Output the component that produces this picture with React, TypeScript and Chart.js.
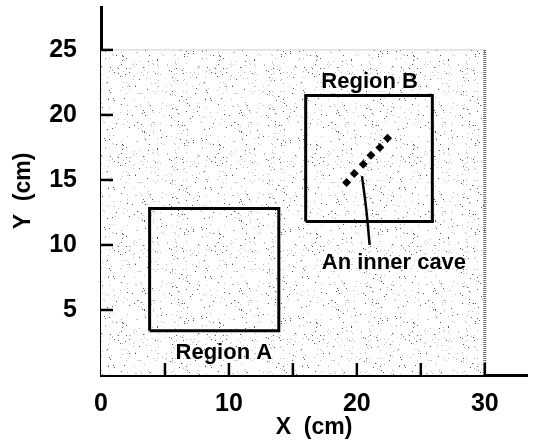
import React, { useEffect, useRef } from 'react';
import { Chart, registerables } from 'chart.js';

Chart.register(...registerables);

// Axis ranges and ticks
const xMin = 0;
const xMax = 33.3;
const yMin = 0;
const yMax = 28.3;
const xTickLabels = [0, 10, 20, 30];
const yTickLabels = [5, 10, 15, 20, 25];
const xTickMarks = [5, 10, 15, 20, 25, 30];
const yTickMarks = [5, 10, 15, 20, 25];

// Shaded (stippled) field
const fieldX = [0, 30];
const fieldTop = [25, 25];
const fieldEdgeX = [30, 30];
const fieldEdgeY = [0, 25];

// Region rectangles
const regionAX = [3.8, 13.9, 13.9, 3.8, 3.8];
const regionAY = [3.4, 3.4, 12.8, 12.8, 3.4];
const regionBX = [16.0, 25.9, 25.9, 16.0, 16.0];
const regionBY = [11.8, 11.8, 21.5, 21.5, 11.8];

// Inner cave points
const caveX = [19.2, 19.8, 20.5, 21.1, 21.8, 22.4];
const caveY = [14.8, 15.5, 16.2, 16.9, 17.5, 18.2];

// Leader line
const leaderX = [20.4, 20.75, 21.0];
const leaderY = [15.3, 12.6, 10.0];

// Annotations
const labelTexts = ['Region A', 'Region B', 'An inner cave'];
const labelX = [9.6, 21.0, 22.9];
const labelY = [1.7, 22.5, 8.6];

const FONT = '"Liberation Sans Narrow", "Arial Narrow", "Liberation Sans", Arial, sans-serif';

const pts = (xs: number[], ys: number[]) => xs.map((x, i) => ({ x, y: ys[i] }));

function makePattern(): CanvasPattern | string {
  const c = document.createElement('canvas');
  c.width = 97;
  c.height = 89;
  const g = c.getContext('2d');
  if (!g) return '#f4f4f4';
  g.fillStyle = '#ffffff';
  g.fillRect(0, 0, c.width, c.height);
  let s = 20240611;
  for (let i = 0; i < 300; i++) {
    s = (Math.imul(s, 1103515245) + 12345) >>> 0;
    const px = (s >>> 8) % c.width;
    s = (Math.imul(s, 1103515245) + 12345) >>> 0;
    const py = (s >>> 8) % c.height;
    g.fillStyle = i % 3 === 0 ? '#555555' : '#bdbdbd';
    g.fillRect(px, py, 1, 1);
  }
  return g.createPattern(c, 'repeat') || '#f4f4f4';
}

const overlayPlugin = {
  id: 'overlay',
  afterDatasetsDraw(chart: any) {
    const { ctx, scales } = chart;
    const xs = scales.x;
    const ys = scales.y;
    ctx.save();
    ctx.strokeStyle = '#000';
    ctx.lineWidth = 2.5;
    const y0 = ys.getPixelForValue(0);
    xTickMarks.forEach((v) => {
      const px = xs.getPixelForValue(v);
      ctx.beginPath();
      ctx.moveTo(px, y0);
      ctx.lineTo(px, y0 - 12);
      ctx.stroke();
    });
    const x0 = xs.getPixelForValue(0);
    yTickMarks.forEach((v) => {
      const py = ys.getPixelForValue(v);
      ctx.beginPath();
      ctx.moveTo(x0, py);
      ctx.lineTo(x0 + 12, py);
      ctx.stroke();
    });
    ctx.fillStyle = '#000';
    ctx.font = `bold 22px ${FONT}`;
    ctx.textAlign = 'center';
    ctx.textBaseline = 'middle';
    labelTexts.forEach((t, i) => {
      ctx.fillText(t, xs.getPixelForValue(labelX[i]), ys.getPixelForValue(labelY[i]));
    });
    ctx.restore();
  },
};

export default function App() {
  const ref = useRef<HTMLCanvasElement | null>(null);

  useEffect(() => {
    if (!ref.current) return;
    const pattern = makePattern();
    const chart = new Chart(ref.current, {
      type: 'scatter',
      data: {
        datasets: [
          {
            data: pts(caveX, caveY),
            showLine: false,
            pointStyle: 'rectRot',
            pointRadius: 4.5,
            backgroundColor: '#000',
            borderColor: '#000',
            borderWidth: 0,
          },
          {
            data: pts(leaderX, leaderY),
            showLine: true,
            tension: 0.4,
            borderColor: '#000',
            borderWidth: 2.5,
            pointRadius: 0,
          },
          {
            data: pts(regionAX, regionAY),
            showLine: true,
            borderColor: '#000',
            borderWidth: 3,
            pointRadius: 0,
          },
          {
            data: pts(regionBX, regionBY),
            showLine: true,
            borderColor: '#000',
            borderWidth: 3,
            pointRadius: 0,
          },
          {
            data: pts(fieldEdgeX, fieldEdgeY),
            showLine: true,
            borderColor: '#6a6a6a',
            borderWidth: 3,
            borderDash: [1, 1],
            pointRadius: 0,
          },
          {
            data: pts(fieldX, fieldTop),
            showLine: true,
            borderColor: '#cfcfcf',
            borderWidth: 1,
            pointRadius: 0,
            fill: 'origin',
            backgroundColor: pattern as any,
          },
        ],
      },
      options: {
        animation: false,
        responsive: true,
        maintainAspectRatio: false,
        layout: { padding: { top: 7, right: 6, left: 0, bottom: 0 } },
        plugins: {
          legend: { display: false },
          tooltip: { enabled: false },
        },
        scales: {
          x: {
            type: 'linear',
            min: xMin,
            max: xMax,
            grid: { display: false, drawTicks: false },
            border: { display: true, color: '#000', width: 3 },
            ticks: {
              color: '#000',
              font: { family: FONT, size: 25, weight: 'bold' },
              padding: 14,
              maxRotation: 0,
              autoSkip: false,
              includeBounds: false,
            },
            afterBuildTicks: (s: any) => {
              s.ticks = xTickLabels.map((v) => ({ value: v }));
            },
            afterFit: (s: any) => {
              s.height = 68;
              s.paddingLeft = 0;
              s.paddingRight = 0;
            },
            title: {
              display: true,
              text: 'X  (cm)',
              color: '#000',
              font: { family: FONT, size: 23, weight: 'bold' },
              padding: { top: 0, bottom: 2 },
            },
          },
          y: {
            type: 'linear',
            min: yMin,
            max: yMax,
            grid: { display: false, drawTicks: false },
            border: { display: true, color: '#000', width: 3 },
            ticks: {
              color: '#000',
              font: { family: FONT, size: 25, weight: 'bold' },
              padding: 24,
              autoSkip: false,
              includeBounds: false,
            },
            afterBuildTicks: (s: any) => {
              s.ticks = yTickLabels.map((v) => ({ value: v }));
            },
            afterFit: (s: any) => {
              s.width = 101;
              s.paddingTop = 0;
              s.paddingBottom = 0;
            },
            title: {
              display: true,
              text: 'Y  (cm)',
              color: '#000',
              font: { family: FONT, size: 23, weight: 'bold' },
              padding: { top: 10, bottom: 0 },
            },
          },
        },
      },
      plugins: [overlayPlugin],
    } as any);
    return () => chart.destroy();
  }, []);

  return (
    <div style={{ position: 'fixed', left: 0, top: 0, width: 533, height: 443, background: '#fff' }}>
      <canvas ref={ref} />
    </div>
  );
}
